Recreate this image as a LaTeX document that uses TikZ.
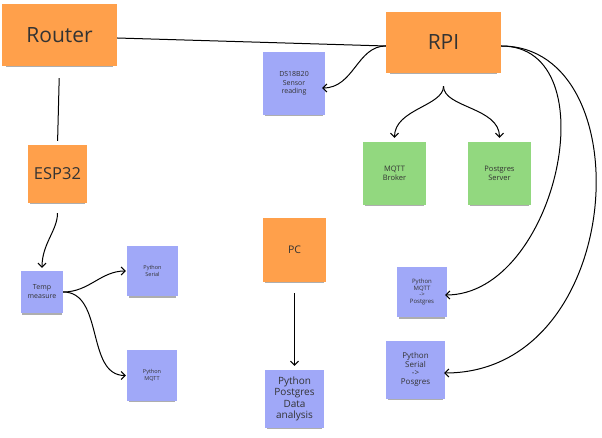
\documentclass[tikz,border=0pt]{standalone}
\usepackage{fontspec}
\setmainfont{Open Sans}
\usetikzlibrary{arrows.meta, shadows}
\definecolor{noteorange}{HTML}{FFA04B}
\definecolor{noteblue}{HTML}{A0A8F8}
\definecolor{notegreen}{HTML}{92D87F}
\definecolor{notetext}{HTML}{333333}

\begin{document}
\begin{tikzpicture}[x=1pt,y=1pt,>={Straight Barb[length=4pt,width=8pt]},
  note/.style={inner sep=0pt,align=center,text=notetext,
    drop shadow={shadow xshift=0pt,shadow yshift=-3.5pt,shadow scale=0.93,opacity=0.45,fill=black!70}},
  orangenote/.style={note,fill=noteorange},
  bluenote/.style={note,fill=noteblue},
  greennote/.style={note,fill=notegreen},
  wire/.style={line width=1pt}]
  \useasboundingbox (0,0) rectangle (602,-438); % 画像の大きさ

  % 付箋
  \node(router) at (59.5,-35) [orangenote,minimum width=115pt,minimum height=62pt,font=\fontsize{21}{25}\selectfont]{Router};
  \node(rpi) at (443.5,-42.5) [orangenote,minimum width=115pt,minimum height=61pt,font=\fontsize{21}{25}\selectfont]{RPI};
  \node(esp) at (57.5,-174) [orangenote,minimum width=59pt,minimum height=58pt,font=\fontsize{16.5}{20}\selectfont]{ESP32};
  \node(pc) at (294.5,-250) [orangenote,minimum width=63pt,minimum height=64pt,font=\fontsize{10.5}{13}\selectfont]{PC};
  \node(ds) at (294,-83.5) [bluenote,minimum width=62pt,minimum height=63pt,font=\fontsize{7}{8.5}\selectfont]{DS18B20\\Sensor\\reading};
  \node(mqtt) at (394.5,-173.5) [greennote,minimum width=63pt,minimum height=63pt,font=\fontsize{7.5}{9}\selectfont]{MQTT\\Broker};
  \node(pgserver) at (499.5,-173.5) [greennote,minimum width=63pt,minimum height=63pt,font=\fontsize{7.5}{9}\selectfont]{Postgres\\Server};
  \node(temp) at (42,-292) [bluenote,minimum width=42pt,minimum height=42pt,font=\fontsize{7}{9}\selectfont]{Temp\\measure};
  \node(pyserial) at (152.5,-271) [bluenote,minimum width=51pt,minimum height=50pt,font=\fontsize{5.5}{6.5}\selectfont]{Python\\Serial};
  \node(pymqtt) at (152,-375.5) [bluenote,minimum width=50pt,minimum height=51pt,font=\fontsize{5.5}{6.5}\selectfont]{Python\\MQTT};
  \node(pymqttpg) at (422,-292) [bluenote,minimum width=50pt,minimum height=50pt,font=\fontsize{6}{6.8}\selectfont]{Python\\MQTT\\->\\Postgres};
  \node(pyserialpg) at (415.5,-369.5) [bluenote,minimum width=59pt,minimum height=58pt,font=\fontsize{8}{8.8}\selectfont]{Python\\Serial\\->\\Posgres};
  \node(pyanalysis) at (294.5,-399) [bluenote,minimum width=59pt,minimum height=58pt,font=\fontsize{10}{11.5}\selectfont]{Python\\Postgres\\Data\\analysis};

  % 線
  \draw[wire] ([yshift=-3pt]router.east) -- ([yshift=-3.5pt]rpi.west); % ルータとRPI
  \draw[wire,shorten <=12pt,shorten >=4pt] (router.south) -- (esp.north);
  \draw[wire,->,shorten <=10pt,shorten >=3pt] (esp.south) to[out=-90,in=90] (temp.north);
  \draw[wire,->,shorten >=1pt] (temp.east) to[out=0,in=180] (pyserial.west);
  \draw[wire,->,shorten >=1pt] (temp.east) to[out=0,in=180] (pymqtt.west);
  \draw[wire,->,shorten >=-3pt] ([yshift=-3.5pt]rpi.west) to[out=180,in=0] ([yshift=-4.5pt]ds.east);
  \draw[wire,->,shorten <=13pt,shorten >=4pt] (rpi.south) to[out=-90,in=90] (mqtt.north);
  \draw[wire,->,shorten <=13pt,shorten >=4pt] (rpi.south) to[out=-90,in=90] (pgserver.north);
  \draw[wire,->,shorten >=-2pt] ([yshift=-3.5pt]rpi.east) to[out=0,in=0,looseness=1.1] ([yshift=-3pt]pymqttpg.east); % 右側の曲線
  \draw[wire,->,shorten >=-1pt] ([yshift=-3.5pt]rpi.east) to[out=0,in=0,out looseness=1.1,in looseness=1.4] ([yshift=-3.5pt]pyserialpg.east);
  \draw[wire,->,shorten <=11pt,shorten >=4pt] (pc.south) -- (pyanalysis.north);
\end{tikzpicture}
\end{document}
